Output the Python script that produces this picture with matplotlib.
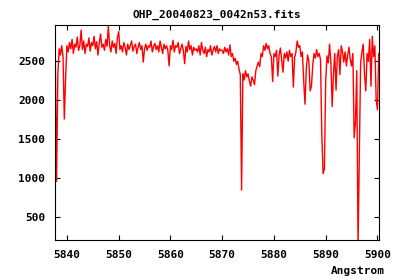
import numpy as np
import matplotlib
matplotlib.use('Agg')
import matplotlib.pyplot as plt

# spectrum: flux on a 0.25 A grid starting at 5837.75 A
start_wl = 5837.75
step_wl = 0.25
flux = [
    # 5837.75 - 5839.75
    2600, 960, 2330, 2660, 2580, 2700, 2560, 1760, 2290,
    # 5840 - 5844.75
    2700, 2620, 2740, 2660, 2780, 2600, 2720, 2680, 2810, 2640,
    2700, 2900, 2650, 2760, 2600, 2720, 2690, 2800, 2630, 2740,
    # 5845 - 5849.75
    2700, 2820, 2660, 2750, 2580, 2730, 2850, 2680, 2720, 2640,
    2780, 2690, 2950, 2700, 2620, 2760, 2680, 2730, 2600, 2800,
    # 5850 - 5854.75
    2880, 2650, 2700, 2620, 2740, 2680, 2580, 2720, 2650, 2700,
    2760, 2630, 2690, 2720, 2600, 2680, 2740, 2650, 2700, 2490,
    # 5855 - 5859.75
    2660, 2720, 2640, 2700, 2680, 2760, 2620, 2690, 2730, 2650,
    2700, 2620, 2760, 2680, 2600, 2720, 2660, 2700, 2640, 2440,
    # 5860 - 5864.75
    2700, 2650, 2770, 2620, 2700, 2680, 2740, 2600, 2660, 2720,
    2640, 2470, 2690, 2620, 2760, 2650, 2700, 2580, 2680, 2640,
    # 5865 - 5869.75
    2660, 2620, 2700, 2580, 2740, 2640, 2600, 2680, 2560, 2650,
    2620, 2700, 2580, 2640, 2690, 2620, 2700, 2600, 2660, 2640,
    # 5870 - 5874.75
    2640, 2600, 2680, 2620, 2660, 2580, 2710, 2560, 2600, 2500,
    2540, 2460, 2500, 2400, 2330, 850, 2340, 2260, 2380, 2300,
    # 5875 - 5879.75
    2340, 2250, 2180, 2300, 2260, 2200, 2380, 2440, 2490, 2430,
    2600, 2560, 2700, 2640, 2730, 2660, 2700, 2600, 2560, 2240,
    # 5880 - 5884.75
    2600, 2560, 2640, 2310, 2580, 2670, 2520, 2360, 2600, 2540,
    2620, 2500, 2640, 2560, 2600, 2170, 2550, 2620, 2760, 2680,
    # 5885 - 5889.75
    2700, 2560, 2620, 2250, 1950, 2400, 2580, 2500, 2120, 2180,
    2450, 2600, 2540, 2650, 2560, 2600, 2520, 1560, 1060, 1120,
    # 5890 - 5894.75
    2250, 2570, 2480, 2720, 2490, 1920, 2330, 2600, 2130, 2560,
    2650, 2330, 2700, 2620, 2490, 2620, 2440, 2580, 2680, 2520,
    # 5895 - 5900.25
    2440, 2600, 1520, 1720, 2380, 120, 1310, 2480, 2620, 2720,
    2330, 2120, 2600, 2500, 2780, 2180, 2820, 2560, 2700, 2010,
    1880, 2600,
]
wl = start_wl + step_wl * np.arange(len(flux))

x_ticks = [5840, 5850, 5860, 5870, 5880, 5890, 5900]
y_ticks = [500, 1000, 1500, 2000, 2500]

font = {'family': 'DejaVu Sans Mono', 'weight': 'bold', 'size': 8}

fig = plt.figure(figsize=(4, 2.8), dpi=100)
ax = fig.add_axes([55/400, 1-240/280, 324/400, 215/280])
ax.plot(wl, flux, color='#ff0000', lw=1.0)

ax.set_xlim(5837.7, 5900.3)
ax.set_ylim(210, 2965)
ax.set_xticks(x_ticks)
ax.set_yticks(y_ticks)
ax.set_xticklabels([str(t) for t in x_ticks], fontdict=font)
ax.set_yticklabels([str(t) for t in y_ticks], fontdict=font)
ax.tick_params(direction='in', length=3.5, width=0.8, top=True, right=True,
               pad=7)
for s in ax.spines.values():
    s.set_linewidth(0.8)

ax.set_title('OHP_20040823_0042n53.fits', fontdict=font, pad=5)
fig.text(385/400, 1-271/280, 'Angstrom', ha='right', va='center', **font)

fig.savefig('out.png', dpi=100)
